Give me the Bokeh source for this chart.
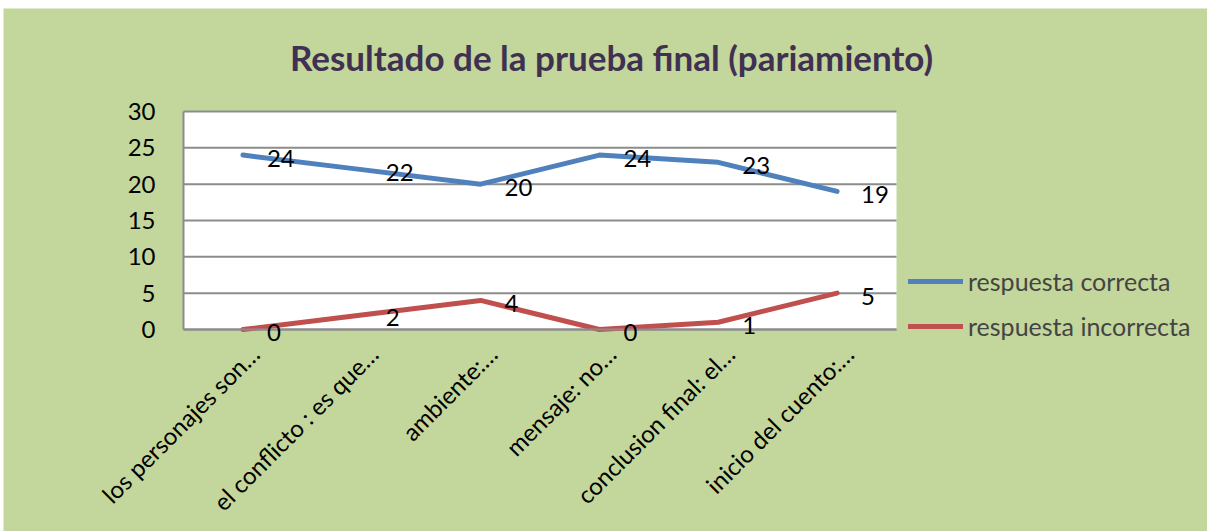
from bokeh.plotting import figure
from bokeh.models import Range1d, FixedTicker, Label, LabelSet, Legend, LegendItem, ColumnDataSource
from bokeh.core.properties import value
from bokeh.embed import file_html
from bokeh.resources import INLINE

categories = ["los personajes son…", "el conflicto : es que…", "ambiente:…",
              "mensaje: no…", "conclusion final: el…", "inicio del cuento:…"]
correcta = [24, 22, 20, 24, 23, 19]
incorrecta = [0, 2, 4, 0, 1, 5]
y_ticks = [0, 5, 10, 15, 20, 25, 30]
y_max = 30
title_text = "Resultado de la prueba final (pariamiento)"

FONT = "Lato"
GREEN = "#C3D69B"
BLUE = "#4F81BD"
RED = "#C0504D"
GRIDC = "#8C8C8C"

# layout constants (page pixels)
FIG_X0, FIG_Y0 = 3, 8
W, H = 1204, 523
AREA_L, AREA_R, AREA_T, AREA_B = 183, 896, 111, 329
FRAME_L = FIG_X0
FRAME_B = FIG_Y0 + H
FRAME_T = FIG_Y0
FRAME_R = FIG_X0 + W

n = len(categories)
xs = [i + 0.5 for i in range(n)]
pxu = (AREA_R - AREA_L) / n
pyu = (AREA_B - AREA_T) / y_max
x_range = Range1d(-(AREA_L - FRAME_L) / pxu, (FRAME_R - AREA_L) / pxu)
y_range = Range1d(-(FRAME_B - AREA_B) / pyu, (AREA_B - FRAME_T) / pyu)

p = figure(width=W, height=H, x_range=x_range, y_range=y_range,
           min_border=0, margin=(FIG_Y0, 0, 0, FIG_X0),
           output_backend="svg", toolbar_location=None,
           background_fill_color=GREEN, border_fill_color=GREEN)
p.outline_line_color = None
p.xgrid.grid_line_color = None
p.ygrid.grid_line_color = None

# white plotting area and horizontal gridlines
p.quad(left=0, right=n, bottom=0, top=y_max, fill_color="white", line_color=None)
p.segment(x0=[0] * len(y_ticks), x1=[n] * len(y_ticks), y0=y_ticks, y1=y_ticks,
          line_color=GRIDC, line_width=2)

# y axis
p.yaxis.fixed_location = 0
p.yaxis.ticker = FixedTicker(ticks=y_ticks)
p.yaxis.bounds = (0, y_max)
p.yaxis.axis_line_color = GRIDC
p.yaxis.axis_line_width = 2
p.yaxis.major_tick_line_color = None
p.yaxis.minor_tick_line_color = None
p.yaxis.major_label_standoff = 22
p.yaxis.major_label_text_font = FONT
p.yaxis.major_label_text_font_size = "24px"
p.yaxis.major_label_text_color = "black"

# x axis
tick_pos = [x + 0.1 for x in xs]
p.xaxis.fixed_location = 0
p.xaxis.bounds = (0, n)
p.xaxis.ticker = FixedTicker(ticks=tick_pos)
p.xaxis.major_label_overrides = {t: c for t, c in zip(tick_pos, categories)}
p.xaxis.major_label_orientation = 0.785398
p.xaxis.axis_line_color = GRIDC
p.xaxis.axis_line_width = 2
p.xaxis.major_tick_line_color = None
p.xaxis.minor_tick_line_color = None
p.xaxis.major_label_standoff = 14
p.xaxis.major_label_text_font = FONT
p.xaxis.major_label_text_font_size = "24px"
p.xaxis.major_label_text_color = "black"

r1 = p.line(xs, correcta, line_color=BLUE, line_width=5, line_join="round", line_cap="round")
r2 = p.line(xs, incorrecta, line_color=RED, line_width=5, line_join="round", line_cap="round")

for vals in (correcta, incorrecta):
    src = ColumnDataSource(dict(x=xs, y=vals, t=[str(v) for v in vals]))
    p.add_layout(LabelSet(x="x", y="y", text="t", source=src, x_offset=24, y_offset=-3,
                          text_align="left", text_baseline="middle",
                          text_font=value(FONT), text_font_size=value("24px"), text_color="black"))

p.add_layout(Label(x=(611 - AREA_L) / pxu, y=(AREA_B - 56) / pyu, text=title_text,
                   text_align="center", text_baseline="middle",
                   text_font=FONT, text_font_style="bold", text_font_size="35px",
                   text_color="#403152"))

legend = Legend(items=[LegendItem(label="respuesta correcta", renderers=[r1]),
                       LegendItem(label="respuesta incorrecta", renderers=[r2])],
                location=(908 - FRAME_L, FRAME_B - 341), orientation="vertical",
                border_line_alpha=0, background_fill_alpha=0, padding=0, margin=0,
                glyph_width=55, glyph_height=20, label_height=20, spacing=15, label_standoff=5,
                label_text_font=FONT, label_text_font_size="25px", label_text_baseline="middle")
p.add_layout(legend, "center")

open("out.html", "w").write(file_html(p, INLINE))
